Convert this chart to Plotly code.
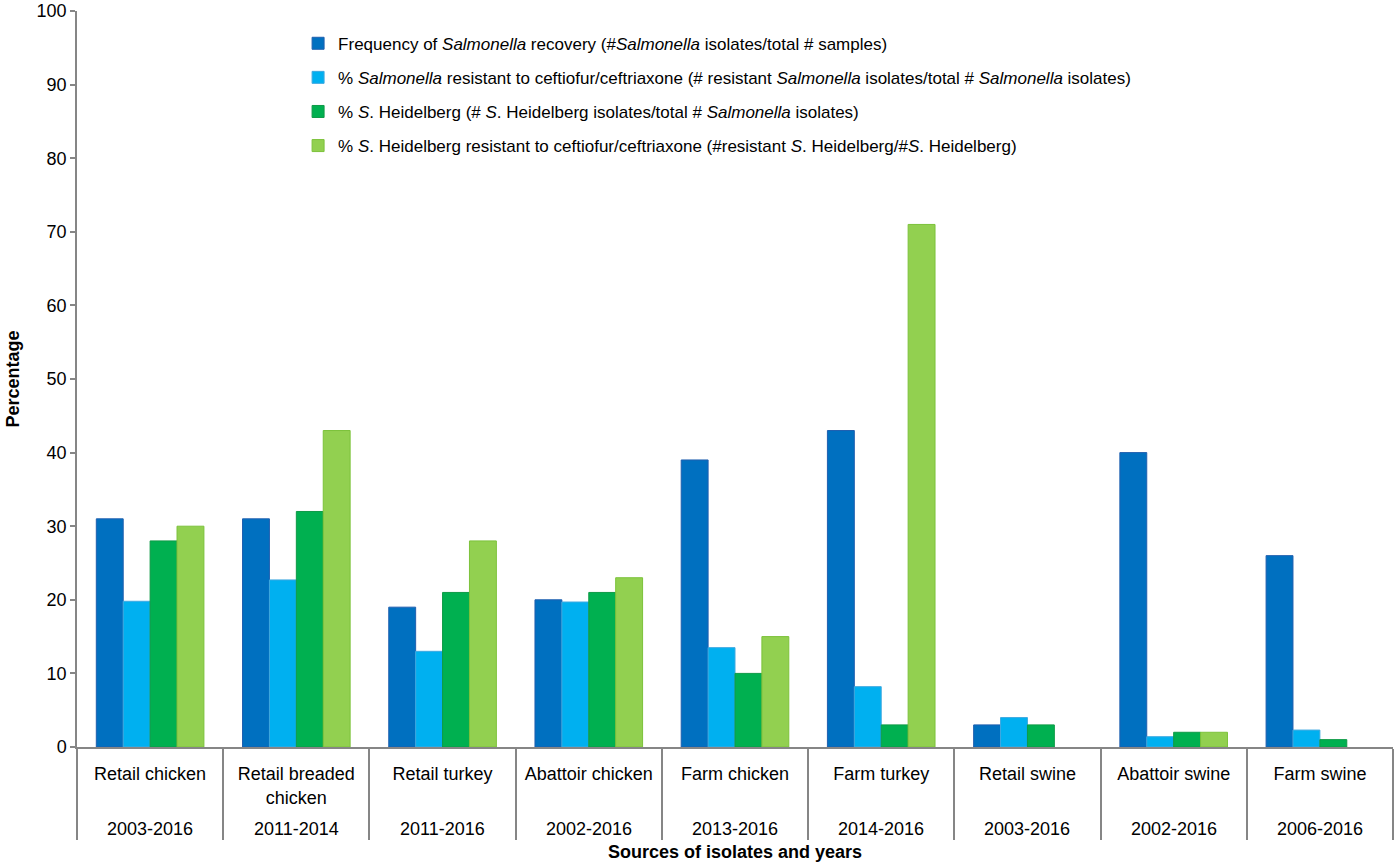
import plotly.graph_objects as go

categories = ["Retail chicken", "Retail breaded<br>chicken", "Retail turkey", "Abattoir chicken",
              "Farm chicken", "Farm turkey", "Retail swine", "Abattoir swine", "Farm swine"]
years = ["2003-2016", "2011-2014", "2011-2016", "2002-2016", "2013-2016",
         "2014-2016", "2003-2016", "2002-2016", "2006-2016"]

freq_recovery = [31, 31, 19, 20, 39, 43, 3, 40, 26]
pct_resistant = [19.8, 22.7, 13, 19.7, 13.5, 8.2, 4, 1.4, 2.3]
pct_heidelberg = [28, 32, 21, 21, 10, 3, 3, 2, 1]
pct_heid_resistant = [30, 43, 28, 23, 15, 71, None, 2, None]

names = [
    "Frequency of <i>Salmonella</i> recovery (#<i>Salmonella</i> isolates/total # samples)",
    "% <i>Salmonella</i> resistant to ceftiofur/ceftriaxone (# resistant <i>Salmonella</i> isolates/total # <i>Salmonella</i> isolates)",
    "% <i>S</i>. Heidelberg (# <i>S</i>. Heidelberg isolates/total # <i>Salmonella</i> isolates)",
    "% <i>S</i>. Heidelberg resistant to ceftiofur/ceftriaxone (#resistant <i>S</i>. Heidelberg/#<i>S</i>. Heidelberg)",
]
colors = ["#0070C0", "#00B0F0", "#00B050", "#92D050"]
edges = ["#1F5FAF", "#3FA9E0", "#0E9A46", "#7CC23A"]
series = [freq_recovery, pct_resistant, pct_heidelberg, pct_heid_resistant]

FONT = "Liberation Sans, Arial, sans-serif"

fig = go.Figure()
for i, (nm, vals) in enumerate(zip(names, series)):
    fig.add_trace(go.Bar(
        x=categories, y=vals, name=nm,
        marker=dict(color=colors[i], line=dict(color=edges[i], width=1)),
        legendgroup=f"g{i}",
    ))

for c, yr in zip(categories, years):
    fig.add_annotation(x=c, y=-0.112, xref="x", yref="paper", text=yr,
                       showarrow=False, yanchor="middle",
                       font=dict(size=18, color="#000000", family=FONT))

fig.add_annotation(x=0.5, y=-0.1427, xref="paper", yref="paper",
                   text="<b>Sources of isolates and years</b>", showarrow=False,
                   yanchor="middle", font=dict(size=18, color="#000000", family=FONT))

fig.update_layout(
    width=1400, height=868,
    margin=dict(l=77, r=7, t=11, b=121, autoexpand=False),
    paper_bgcolor="white", plot_bgcolor="white",
    barmode="group", bargap=0.264, bargroupgap=0,
    font=dict(family=FONT, size=18, color="#000000"),
    legend=dict(x=0.168, y=0.98, xanchor="left", yanchor="top",
                font=dict(size=17, family=FONT), tracegroupgap=9,
                bgcolor="rgba(0,0,0,0)", itemwidth=30),
    showlegend=True,
)
fig.update_xaxes(
    type="category", range=[-0.5, 8.5], automargin=False,
    showline=True, linecolor="#868686", linewidth=1.5,
    ticks="outside", tickson="boundaries", ticklen=91, tickcolor="#868686", tickwidth=1.5,
    ticklabelstandoff=10,
    tickfont=dict(size=18, family=FONT, color="#000000"),
    showgrid=False, zeroline=False,
)
fig.update_yaxes(
    range=[0, 100], dtick=10, tick0=0, automargin=False,
    showline=True, linecolor="#868686", linewidth=1.5,
    ticks="outside", ticklen=5, tickcolor="#868686", tickwidth=1.5,
    tickfont=dict(size=18, family=FONT, color="#000000"),
    showgrid=False, zeroline=False,
    title=dict(text="<b>Percentage</b>", standoff=12, font=dict(size=18, family=FONT)),
)

fig.write_html("out.html", config={"displayModeBar": False},
               post_script="document.body.style.margin='0';")
